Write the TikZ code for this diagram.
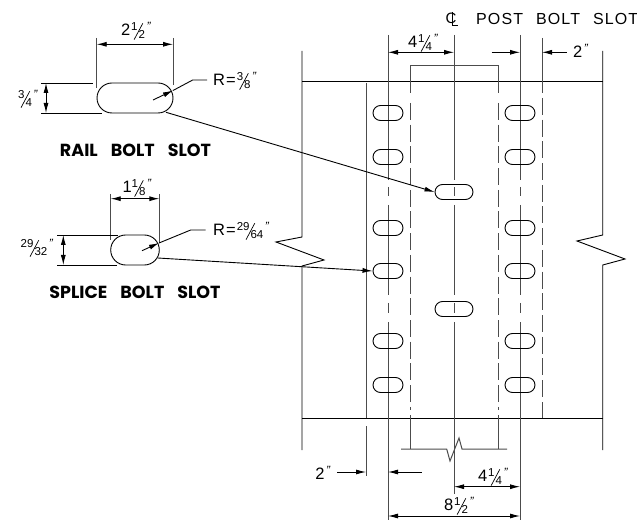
\documentclass[tikz,border=0pt]{standalone}
\usepackage{fontspec}
\usepackage{graphicx}
\setmainfont{Liberation Sans}
\newfontfamily\titlefont{Poppins}
\usetikzlibrary{arrows.meta,shapes.misc}
\newcommand\frc[2]{\raisebox{5pt}{\fontsize{11.5}{11.5}\selectfont #1}\kern-3.8pt\raisebox{-4pt}{\rotatebox{-28}{\rule{.7pt}{18.5pt}}}\kern-4.5pt\raisebox{-3.5pt}{\fontsize{11.5}{11.5}\selectfont #2}}
\newcommand\inch{\kern1.5pt\raisebox{5pt}{\fontsize{12}{12}\selectfont\textit{"}}}
\tikzset{
  slot/.style={draw=black,rounded rectangle,inner sep=0pt,line width=.9pt,minimum height=15pt,minimum width=30pt},
  cslot/.style={slot,minimum width=38pt},
  bigslot/.style={slot,minimum height=30pt},
  ln/.style={line width=.9pt,black},
  vl/.style={line width=1pt,black!70},
  dashes/.style={vl,dash pattern=on 17pt off 4.7pt},
  dimline/.style={line width=.9pt,black},
  tip/.style={-{Latex[length=10pt,width=5pt]}},
  tips/.style={{Latex[length=10pt,width=5pt]}-{Latex[length=10pt,width=5pt]}},
  lab/.style={inner sep=0pt,font=\fontsize{16.5}{16.5}\selectfont},
  ttl/.style={inner sep=0pt,font=\titlefont\bfseries\fontsize{17.5}{18}\selectfont}
}
\begin{document}
\begin{tikzpicture}[x=1pt,y=-1pt]
\useasboundingbox[fill=white] (0,0) rectangle (637,521);
% outer frame with break lines
\draw[ln] (302,51) -- (302,237) -- (276,242) -- (324,260) -- (302,266) -- (302,450);
\draw[ln] (602.7,51) -- (602.7,235) -- (577,241) -- (625,259) -- (602.7,265) -- (602.7,450);
\draw[ln] (302,81) -- (602.7,81);
\draw[ln] (302,418) -- (602.7,418);
% plain vertical
\draw[vl] (366,83) -- (366,418);
\draw[vl] (366,426) -- (366,476);
% centre lines
\foreach \x/\b in {388/520,454/494,520/520}{
  \draw[vl] (\x,35) -- (\x,180);
  \draw[vl] (\x,187) -- (\x,196);
  \draw[vl] (\x,205) -- (\x,295);
  \draw[vl] (\x,303) -- (\x,313);
  \draw[vl] (\x,322) -- (\x,\b);
}
% post outline
\draw[vl] (410,93) -- (410,66) -- (498,66) -- (498,93);
\foreach \x in {410,498}{
  \draw[dashes] (\x,103) -- (\x,410);
  \draw[vl] (\x,415) -- (\x,449);
}
\draw[vl] (542,38) -- (542,93);
\draw[dashes] (542,98) -- (542,397);
\draw[vl] (542,402) -- (542,418);
\draw[vl] (401,449) -- (446.7,449) -- (450,461) -- (459,438) -- (462,449) -- (507,449);
% slots
\foreach \y [count=\i] in {113,157,228,271,341,385}{
  \node[slot] (l\i) at (388,\y) {};
  \node[slot] (r\i) at (520,\y) {};
}
\node[cslot] (c1) at (454,192) {};
\node[cslot] (c2) at (454,309) {};
% rail bolt slot detail
\node[bigslot,minimum width=76pt] (rail) at (135,98) {};
\draw[vl] (96.7,38) -- (96.7,88);
\draw[vl] (173,38) -- (173,85);
\draw[dimline,tips] (96.7,44.3) -- (173,44.3);
\draw[dimline] (41,83) -- (93,83);
\draw[dimline] (41,113) -- (102,113);
\draw[dimline,tips] (46,83) -- (46,113);
\coordinate (railfree) at (153,100);
\coordinate (railelbow) at (192.7,80);
\coordinate (railend) at (207,80);
\coordinate (railrim) at (173,90.5);
\draw[dimline,tip] (railfree) -- (railrim);
\draw[dimline] (railrim) -- (railelbow) -- (railend);
\coordinate (railout) at (166,112.3);
\draw[ln,tip] (railout) -- (c1.west);
% splice bolt slot detail
\node[bigslot,minimum width=48.6pt] (splice) at (135,250) {};
\draw[vl] (110.7,194) -- (110.7,240);
\draw[vl] (159.3,194) -- (159.3,243);
\draw[dimline,tips] (110.7,198.7) -- (159.3,198.7);
\draw[dimline] (57,235) -- (118,235);
\draw[dimline] (57,265) -- (117,265);
\draw[dimline,tips] (63.3,235) -- (63.3,265);
\coordinate (splfree) at (142,250.7);
\coordinate (splrim) at (159,243);
\coordinate (splelbow) at (190.7,230);
\coordinate (splend) at (205.7,230);
\draw[dimline,tip] (splfree) -- (splrim);
\draw[dimline] (splrim) -- (splelbow) -- (splend);
\coordinate (splout) at (157.7,258);
\draw[ln,tip] (splout) -- (l4.west);
% top dimensions
\draw[dimline,tips] (388,52.3) -- (454,52.3);
\coordinate (ta) at (491.7,52.3);
\coordinate (tb) at (520,52.3);
\coordinate (tc) at (566.7,52.3);
\coordinate (td) at (542,52.3);
\draw[dimline,tip] (ta) -- (tb);
\draw[dimline,tip] (tc) -- (td);
% bottom dimensions
\coordinate (ba) at (337,472);
\coordinate (bb) at (366,472);
\coordinate (bc) at (421.7,472);
\coordinate (bd) at (388,472);
\draw[dimline,tip] (ba) -- (bb);
\draw[dimline,tip] (bc) -- (bd);
\draw[dimline,tips] (454,486.7) -- (520,486.7);
\draw[dimline,tips] (388,516) -- (520,516);
% labels
\node[lab] (t1) at (136,31) {2\kern1pt\frc{1}{2}\inch};
\node[lab] (t2) at (28,99) {\frc{3}{4}\inch};
\node[lab,anchor=west] (t3) at (213,81) {R\kern1pt=\kern1pt\frc{3}{8}\inch};
\node[ttl] (t4) at (135.5,150.5) {RAIL\hspace{13pt}BOLT\hspace{13pt}SLOT};
\node[lab] (t5) at (137,188) {1\frc{1}{8}\inch};
\node[lab] (t6) at (37,248) {\frc{29}{32}\inch};
\node[lab,anchor=west] (t7) at (213,231) {R\kern1pt=\kern1pt\frc{29}{64}\inch};
\node[ttl] (t8) at (135,292) {SPLICE\hspace{13pt}BOLT\hspace{13pt}SLOT};
\node[lab] (t9) at (423,43) {4\kern1pt\frc{1}{4}\inch};
\node[lab,anchor=west] (t10) at (573,51) {2\inch};
\node[lab] (t11) at (323,473) {2\inch};
\node[lab] (t12) at (493,477) {4\kern1pt\frc{1}{4}\inch};
\node[lab] (t13) at (459,506) {8\kern1pt\frc{1}{2}\inch};
% centre-line symbol
\node[inner sep=0pt,font=\fontsize{15}{15}\selectfont] (cl) at (451,18) {C};
\coordinate (cltop) at (452,12);
\coordinate (clcorner) at (452,25);
\coordinate (clend) at (458,25);
\draw[line width=.9pt] (cltop) -- (clcorner) -- (clend);
\node[inner sep=0pt,anchor=west,font=\fontsize{16}{16}\selectfont\addfontfeatures{LetterSpace=7}] (title) at (476,19) {POST\hspace{13pt}BOLT\hspace{13pt}SLOT};
\end{tikzpicture}
\end{document}
